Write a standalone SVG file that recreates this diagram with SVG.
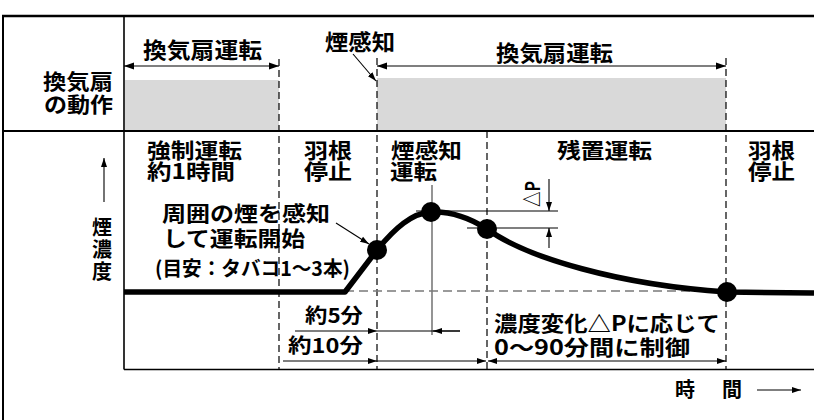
<svg xmlns="http://www.w3.org/2000/svg" width="814" height="420" viewBox="0 0 814 420">
<defs>
<marker id="ah" viewBox="0 0 10 8" refX="10" refY="4" markerWidth="10" markerHeight="8" markerUnits="userSpaceOnUse" orient="auto-start-reverse"><path d="M0,0.5 L10,4 L0,7.5 z" fill="#000"/></marker>
<marker id="ahs" viewBox="0 0 9 7" refX="9" refY="3.5" markerWidth="9" markerHeight="7" markerUnits="userSpaceOnUse" orient="auto-start-reverse"><path d="M0,0.5 L9,3.5 L0,6.5 z" fill="#000"/></marker>
</defs>
<style>
text{font-family:"Noto Sans CJK JP","Noto Sans",sans-serif;font-weight:bold;fill:#000}
.t22{font-size:22px}
.t21{font-size:21px}
.t20{font-size:20px}
.frame{stroke:#000;fill:none}
.dash{stroke:#000;stroke-width:1.2;stroke-dasharray:7 4;fill:none}
.thin{stroke:#000;stroke-width:1.1;fill:none}
.gray{stroke:#7a7a7a;stroke-width:1.6;fill:none}
.gdash{stroke:#7a7a7a;stroke-width:1.6;stroke-dasharray:9 5;fill:none}
.curve{stroke:#000;stroke-width:5.5;fill:none;stroke-linejoin:round}
.band{fill:#d9d9d9}
</style>
<rect width="814" height="420" fill="#fff"/>

<g id="frame">
<line class="frame" x1="2" y1="16" x2="814" y2="16" stroke-width="2.5"/>
<line class="frame" x1="3" y1="16" x2="3" y2="420" stroke-width="2"/>
<line class="frame" x1="3" y1="131" x2="814" y2="131" stroke-width="2"/>
<line class="frame" x1="124" y1="16" x2="124" y2="369.5" stroke-width="1.6"/>
<line class="frame" x1="124" y1="369.5" x2="814" y2="369.5" stroke-width="1.6"/>
</g>

<g id="fan-bands">
<rect class="band" x="125" y="80" width="154" height="50"/>
<rect class="band" x="377" y="78" width="349" height="52"/>
</g>

<g id="dividers">
<line class="dash" x1="279" y1="59" x2="279" y2="369"/>
<line class="dash" x1="377" y1="58" x2="377" y2="369"/>
<line class="dash" x1="726" y1="58" x2="726" y2="369"/>
<line class="dash" x1="487" y1="131" x2="487" y2="369"/>
</g>

<g id="labels-top">
<text class="t22" x="143" y="57.5" textLength="119" lengthAdjust="spacingAndGlyphs">換気扇運転</text>
<text class="t22" x="325" y="49.5" textLength="70" lengthAdjust="spacingAndGlyphs">煙感知</text>
<text class="t22" x="496" y="60.5" textLength="117" lengthAdjust="spacingAndGlyphs">換気扇運転</text>
<text class="t21" x="43" y="88.5" textLength="70" lengthAdjust="spacingAndGlyphs">換気扇</text>
<text class="t21" x="44" y="111.5" textLength="69" lengthAdjust="spacingAndGlyphs">の動作</text>
</g>

<g id="labels-phases">
<text class="t21" x="147" y="157.5" textLength="95" lengthAdjust="spacingAndGlyphs">強制運転</text>
<text class="t21" x="147" y="178.5" textLength="88" lengthAdjust="spacingAndGlyphs">約1時間</text>
<text class="t21" x="304" y="157.5" textLength="48" lengthAdjust="spacingAndGlyphs">羽根</text>
<text class="t21" x="304" y="178.5" textLength="48" lengthAdjust="spacingAndGlyphs">停止</text>
<text class="t21" x="391" y="157.5" textLength="71" lengthAdjust="spacingAndGlyphs">煙感知</text>
<text class="t21" x="390" y="178.5" textLength="47" lengthAdjust="spacingAndGlyphs">運転</text>
<text class="t21" x="557" y="157.5" textLength="95" lengthAdjust="spacingAndGlyphs">残置運転</text>
<text class="t21" x="748" y="157.5" textLength="47" lengthAdjust="spacingAndGlyphs">羽根</text>
<text class="t21" x="748" y="178.5" textLength="47" lengthAdjust="spacingAndGlyphs">停止</text>
</g>

<g id="axis-y">
<line class="thin" x1="104" y1="202" x2="104" y2="158" marker-end="url(#ahs)"/>
<text class="t20" x="102" y="234.5" text-anchor="middle">煙</text>
<text class="t20" x="102" y="256.5" text-anchor="middle">濃</text>
<text class="t20" x="102" y="278.5" text-anchor="middle">度</text>
</g>

<g id="axis-x">
<text class="t20" x="675" y="397">時</text>
<text class="t20" x="722" y="397">間</text>
<line class="thin" x1="757" y1="390" x2="801" y2="390" marker-end="url(#ahs)"/>
</g>

<g id="guides">
<line class="gdash" x1="345" y1="291" x2="722" y2="291"/>
<line class="gray" x1="432" y1="185" x2="432" y2="335"/>
<line class="thin" x1="416" y1="211" x2="558" y2="211"/>
<line class="thin" x1="467" y1="228" x2="558" y2="228"/>
</g>

<g id="connectors">
<line class="thin" x1="124" y1="66" x2="279" y2="66" marker-start="url(#ah)" marker-end="url(#ah)"/>
<line class="thin" x1="377" y1="66" x2="726" y2="66" marker-start="url(#ah)" marker-end="url(#ah)"/>
<line class="thin" x1="353" y1="54" x2="376" y2="81" marker-end="url(#ahs)"/>
<line class="thin" x1="336" y1="223" x2="369" y2="244" marker-end="url(#ahs)"/>
<line class="thin" x1="549" y1="179" x2="549" y2="211" marker-end="url(#ahs)"/>
<line class="thin" x1="549" y1="248" x2="549" y2="228" marker-end="url(#ahs)"/>
<line class="thin" x1="295" y1="331" x2="377" y2="331" marker-end="url(#ahs)"/>
<line class="thin" x1="377" y1="331" x2="460" y2="331"/>
<line class="thin" x1="460" y1="331" x2="433" y2="331" marker-end="url(#ahs)"/>
<line class="thin" x1="283" y1="361" x2="377" y2="361" marker-end="url(#ahs)"/>
<line class="thin" x1="377" y1="361" x2="486" y2="361" marker-end="url(#ahs)"/>
<line class="thin" x1="488" y1="361" x2="726" y2="361" marker-start="url(#ahs)" marker-end="url(#ahs)"/>
</g>

<g id="smoke-curve">
<path class="curve" d="M124,292 L345,292 L377,250 C395,228 412,213 431,212 C452,211 470,218 487,229 C527,258 620,285 727,292 L814,293"/>
<circle cx="377" cy="250" r="10"/>
<circle cx="431" cy="212" r="10"/>
<circle cx="487" cy="229" r="10"/>
<circle cx="727" cy="292" r="10"/>
</g>

<g id="annotations">
<text class="t21" x="162" y="221" textLength="168" lengthAdjust="spacingAndGlyphs">周囲の煙を感知</text>
<text class="t21" x="163" y="246" textLength="142" lengthAdjust="spacingAndGlyphs">して運転開始</text>
<text class="t20" x="155" y="276" textLength="195" lengthAdjust="spacingAndGlyphs">(目安：タバコ1〜3本)</text>
<text class="t20" transform="translate(540,207) rotate(-90)" textLength="26" lengthAdjust="spacingAndGlyphs">△P</text>
<text class="t20" x="305" y="323" textLength="58" lengthAdjust="spacingAndGlyphs">約5分</text>
<text class="t20" x="288" y="353" textLength="75" lengthAdjust="spacingAndGlyphs">約10分</text>
<text class="t21" x="494" y="331" textLength="226" lengthAdjust="spacingAndGlyphs">濃度変化△Pに応じて</text>
<text class="t21" x="494" y="355" textLength="196" lengthAdjust="spacingAndGlyphs">0〜90分間に制御</text>
</g>
</svg>
